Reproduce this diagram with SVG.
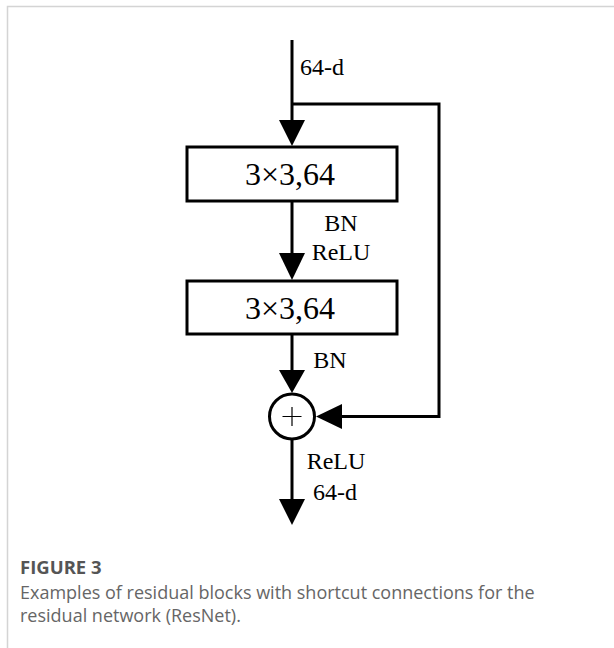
<svg xmlns="http://www.w3.org/2000/svg" width="614" height="648" viewBox="0 0 614 648">
<defs>
<style>
.frame{fill:none;stroke:#d4d4d4;stroke-width:1.5}
.ln{fill:none;stroke:#000;stroke-width:3}
.box{fill:#fff;stroke:#000;stroke-width:3}
.ah{fill:#000}
.bt{font-family:"Liberation Serif","Times New Roman",serif;font-size:32px;fill:#000;text-anchor:middle}
.lb{font-family:"Liberation Serif","Times New Roman",serif;font-size:24px;fill:#000;text-anchor:middle}
.cap{font-family:"Open Sans","Noto Sans",sans-serif;font-size:18px;fill:#666}
.fig{font-family:"Open Sans","Noto Sans",sans-serif;font-size:18.5px;font-weight:bold;fill:#555}
</style>
</defs>
<rect width="614" height="648" fill="#fff"/>
<path class="frame" d="M7.5,648 V6.5 H614"/>
<g id="connectors">
<path class="ln" d="M292,40 V122"/>
<path class="ln" d="M292,104 H439 V416.5 H340"/>
<polygon class="ah" points="279,120 305,120 292,146"/>
<path class="ln" d="M292,201 V255"/>
<polygon class="ah" points="279,253 305,253 292,280"/>
<path class="ln" d="M292,334 V374"/>
<polygon class="ah" points="279,370 305,370 292,393"/>
<polygon class="ah" points="342,404 342,429 316,416.5"/>
<path class="ln" d="M292,440 V502"/>
<polygon class="ah" points="279,499 305,499 292,525"/>
<text class="lb" x="322" y="75">64-d</text>
<text class="lb" x="341" y="231">BN</text>
<text class="lb" x="341" y="260">ReLU</text>
<text class="lb" x="330" y="368">BN</text>
<text class="lb" x="336" y="469">ReLU</text>
<text class="lb" x="335" y="500">64-d</text>
</g>
<g id="conv1">
<rect class="box" x="187" y="147" width="210" height="54"/>
<text class="bt" x="290" y="185">3×3,64</text>
</g>
<g id="conv2">
<rect class="box" x="187" y="281" width="210" height="53"/>
<text class="bt" x="290" y="319">3×3,64</text>
</g>
<g id="add">
<circle cx="292" cy="416.5" r="22.5" fill="#fff" stroke="#000" stroke-width="3"/>
<path d="M292,407 V426 M282.5,416.5 H301.5" stroke="#000" stroke-width="1.2"/>
</g>
<g id="caption">
<text class="fig" x="20" y="574">FIGURE 3</text>
<text class="cap" x="20" y="599">Examples of residual blocks with shortcut connections for the</text>
<text class="cap" x="20" y="622">residual network (ResNet).</text>
</g>
</svg>
